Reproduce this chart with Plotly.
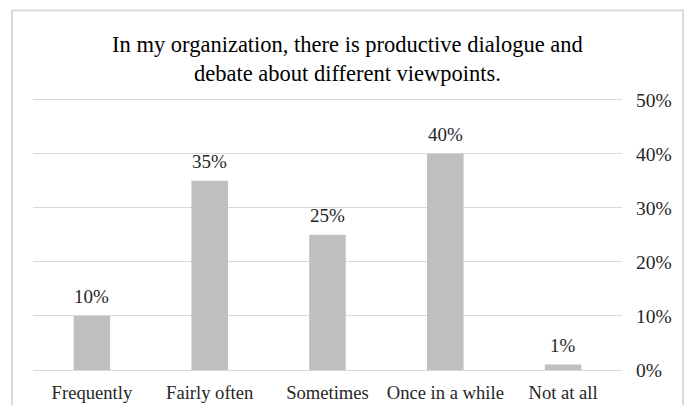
import plotly.graph_objects as go

categories = ["Frequently", "Fairly often", "Sometimes", "Once in a while", "Not at all"]
values = [0.10, 0.35, 0.25, 0.40, 0.01]
labels = ["10%", "35%", "25%", "40%", "1%"]
y_ticks = [0, 0.1, 0.2, 0.3, 0.4, 0.5]
y_tick_text = ["0%", "10%", "20%", "30%", "40%", "50%"]

FONT = "Liberation Serif, Times New Roman, serif"
TEXT = "#262626"

fig = go.Figure(
    go.Bar(
        x=categories,
        y=values,
        width=0.31,
        marker=dict(color="#bfbfbf", line=dict(width=0)),
        hoverinfo="skip",
    )
)

# value labels above each bar
for cat, val, lab in zip(categories, values, labels):
    fig.add_annotation(
        x=cat, y=val, text=lab, showarrow=False,
        yanchor="middle", yshift=19,
        font=dict(family=FONT, size=19, color=TEXT),
    )

# light frame around the chart
fig.add_shape(
    type="rect", xref="paper", yref="paper",
    x0=-0.0357, x1=1.1036, y0=-0.16, y1=1.3165,
    line=dict(color="#d9d9d9", width=2), fillcolor="rgba(0,0,0,0)",
    layer="below",
)

fig.update_layout(
    width=688, height=405,
    margin=dict(l=33, r=66, t=97, b=35, autoexpand=False),
    paper_bgcolor="white", plot_bgcolor="white",
    showlegend=False,
    title=dict(
        text="In my organization, there is productive dialogue and<br>debate about different viewpoints.",
        x=0.505, xref="container", xanchor="center",
        y=1 - 52 / 405, yref="container", yanchor="top",
        font=dict(family=FONT, size=22.5, color="#000000"),
    ),
    xaxis=dict(
        showgrid=False, showline=False, zeroline=False, ticks="",
        ticklabelstandoff=9, automargin=False,
        tickfont=dict(family=FONT, size=18.6, color=TEXT),
        fixedrange=True,
    ),
    yaxis=dict(
        side="right", range=[0, 0.505], automargin=False,
        tickvals=y_ticks, ticktext=y_tick_text,
        showgrid=True, gridcolor="#d9d9d9", gridwidth=1,
        zeroline=True, zerolinecolor="#d9d9d9", zerolinewidth=1,
        showline=False, ticks="", ticklabelstandoff=13,
        tickfont=dict(family=FONT, size=19.5, color=TEXT),
        fixedrange=True,
    ),
)

fig.write_html("out.html")
